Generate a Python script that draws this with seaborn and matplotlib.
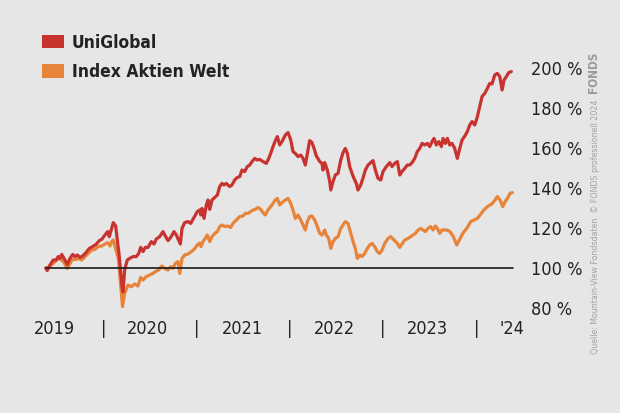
import pandas as pd
import numpy as np
import matplotlib.pyplot as plt
import seaborn as sns
from matplotlib.patches import Patch

# decimal years (weekly-ish samples)
uni_t = [2019.382, 2019.399, 2019.428, 2019.464, 2019.493, 2019.517, 2019.536, 2019.554, 2019.579, 2019.614,
         2019.643, 2019.672, 2019.697, 2019.721, 2019.750, 2019.779, 2019.814, 2019.850, 2019.886, 2019.922,
         2019.957, 2019.983,
         2020.018, 2020.047, 2020.064, 2020.090, 2020.107, 2020.133, 2020.150, 2020.168, 2020.201, 2020.211,
         2020.229, 2020.257, 2020.283, 2020.318, 2020.354, 2020.380, 2020.401, 2020.426, 2020.450, 2020.479,
         2020.515, 2020.544, 2020.568, 2020.605, 2020.640, 2020.665, 2020.694, 2020.723, 2020.758, 2020.783,
         2020.809, 2020.826, 2020.844, 2020.873, 2020.908, 2020.937, 2020.973,
         2021.008, 2021.034, 2021.045, 2021.058, 2021.080, 2021.105, 2021.123, 2021.141, 2021.166, 2021.195,
         2021.223, 2021.248, 2021.273, 2021.294, 2021.319, 2021.355, 2021.380, 2021.409, 2021.437, 2021.463,
         2021.487, 2021.516, 2021.544, 2021.570, 2021.595, 2021.624, 2021.651, 2021.677, 2021.713, 2021.748,
         2021.774, 2021.795, 2021.820, 2021.845, 2021.866, 2021.892, 2021.916, 2021.952, 2021.981,
         2022.010, 2022.034, 2022.059, 2022.088, 2022.117, 2022.142, 2022.166, 2022.188, 2022.213, 2022.238,
         2022.260, 2022.284, 2022.321, 2022.345, 2022.356, 2022.374, 2022.402, 2022.428, 2022.439, 2022.463,
         2022.488, 2022.517, 2022.546, 2022.571, 2022.595, 2022.617, 2022.642, 2022.667, 2022.688, 2022.713,
         2022.731, 2022.760, 2022.785, 2022.810, 2022.839, 2022.868, 2022.892, 2022.917, 2022.946, 2022.975,
         2022.999,
         2023.035, 2023.071, 2023.096, 2023.125, 2023.153, 2023.179, 2023.203, 2023.232, 2023.260, 2023.286,
         2023.311, 2023.339, 2023.367, 2023.393, 2023.418, 2023.447, 2023.475, 2023.500, 2023.525, 2023.546,
         2023.571, 2023.597, 2023.625, 2023.643, 2023.668, 2023.689, 2023.715, 2023.739, 2023.768, 2023.796,
         2023.822, 2023.847, 2023.876, 2023.903, 2023.929, 2023.954, 2023.983,
         2024.011, 2024.036, 2024.061, 2024.090, 2024.118, 2024.144, 2024.168, 2024.197, 2024.225, 2024.251,
         2024.276, 2024.297, 2024.322, 2024.347, 2024.375]
uni_v = [100, 98.7, 101.5, 104, 104, 105.7, 104.8, 106.8, 104.8, 101.8,
         104.8, 106.8, 105.7, 106.5, 105.3, 106, 107.7, 109.8, 110.7, 111.8,
         113.7, 114.3,
         116.5, 118.2, 115.7, 119.8, 122.7, 121, 114, 107.3, 90.7, 88,
         99, 104, 104.8, 105.7, 105.7, 107.3, 110.3, 108.2, 110.3, 110.3,
         113.2, 112, 114.5, 115.7, 118.2, 116, 113.7, 115.3, 118.2, 116.5,
         113.7, 112, 119.8, 122.7, 123.2, 122.3, 125.3,
         128.2, 129, 126.5, 129.8, 124.8, 131.5, 134, 129.3, 134, 135.3,
         136.5, 140.7, 142.3, 141.5, 142.3, 140.7, 141.5, 144, 145.3, 145.7,
         149, 148.2, 150.7, 151.5, 153.2, 154.8, 154, 154.3, 153.2, 152.3,
         154.8, 157.3, 160.7, 163.7, 165.7, 161.5, 163.2, 166.5, 167.7,
         164, 158.2, 157.3, 155.7, 156.5, 154.8, 151.5, 157.3, 163.7, 162.7,
         159.8, 156, 153.2, 152.3, 149, 152.7, 149, 143.2, 139, 143.2,
         146.5, 147.3, 154, 157.7, 159.8, 157.3, 150.7, 147.3, 144.8, 142.3,
         139, 141.5, 145, 149, 151.5, 152.7, 153.7, 149, 144.8, 144,
         148.2,
         150.7, 152.7, 150.7, 152.3, 153.2, 146.5, 148.2, 149.8, 151.5, 151.5,
         152.7, 154.8, 158.2, 159.8, 162.3, 161.5, 162.3, 160.7, 163.2, 164.8,
         161.5, 163.2, 160.7, 164.8, 162.3, 164.8, 161.5, 162.3, 159.8, 154.8,
         159.8, 164, 166, 168.2, 171.5, 173.2, 171.5,
         175.7, 180.7, 185.7, 187.3, 189.8, 192.3, 192, 196.5, 197.3, 195.7,
         189, 194, 195.7, 197.7, 198.2]

idx_t = [2019.392, 2019.428, 2019.464, 2019.500, 2019.528, 2019.554, 2019.579, 2019.614, 2019.643, 2019.672,
         2019.707, 2019.732, 2019.768, 2019.804, 2019.839, 2019.876, 2019.911, 2019.946, 2019.983,
         2020.018, 2020.047, 2020.072, 2020.090, 2020.107, 2020.136, 2020.161, 2020.179, 2020.197, 2020.206,
         2020.229, 2020.265, 2020.300, 2020.337, 2020.372, 2020.401, 2020.426, 2020.461, 2020.498, 2020.533,
         2020.558, 2020.594, 2020.629, 2020.658, 2020.694, 2020.723, 2020.747, 2020.772, 2020.801, 2020.819,
         2020.844, 2020.873, 2020.908, 2020.944, 2020.973,
         2021.008, 2021.034, 2021.048, 2021.069, 2021.094, 2021.115, 2021.141, 2021.166, 2021.195, 2021.223,
         2021.248, 2021.273, 2021.302, 2021.330, 2021.366, 2021.391, 2021.426, 2021.463, 2021.498, 2021.523,
         2021.552, 2021.581, 2021.605, 2021.630, 2021.659, 2021.688, 2021.713, 2021.737, 2021.766, 2021.795,
         2021.820, 2021.845, 2021.866, 2021.892, 2021.916, 2021.952, 2021.981,
         2022.010, 2022.034, 2022.059, 2022.088, 2022.117, 2022.142, 2022.166, 2022.188, 2022.213, 2022.238,
         2022.267, 2022.295, 2022.321, 2022.345, 2022.374, 2022.391, 2022.417, 2022.439, 2022.463, 2022.488,
         2022.517, 2022.546, 2022.571, 2022.595, 2022.624, 2022.653, 2022.678, 2022.702, 2022.724, 2022.750,
         2022.774, 2022.803, 2022.831, 2022.857, 2022.882, 2022.910, 2022.938, 2022.964, 2022.989,
         2023.018, 2023.053, 2023.082, 2023.117, 2023.153, 2023.179, 2023.203, 2023.232, 2023.268, 2023.297,
         2023.321, 2023.346, 2023.375, 2023.404, 2023.428, 2023.453, 2023.482, 2023.511, 2023.536, 2023.560,
         2023.582, 2023.607, 2023.632, 2023.683, 2023.718, 2023.753, 2023.790, 2023.818, 2023.854, 2023.897,
         2023.940, 2023.975,
         2024.011, 2024.040, 2024.075, 2024.118, 2024.165, 2024.201, 2024.225, 2024.254, 2024.283, 2024.308,
         2024.333, 2024.361, 2024.386]
idx_v = [100, 101, 102.3, 104, 104.8, 104, 102.7, 99.8, 102.3, 104.3,
         104.3, 104.8, 104, 105.7, 107.3, 109, 109.3, 110.7, 111,
         112, 112.7, 111, 113.2, 114, 109, 104.8, 95.7, 85.7, 80.7,
         87.3, 91.5, 90.7, 92, 91, 95.3, 94, 95.7, 96.5, 97.3,
         98.2, 99, 101, 99.8, 99, 100.7, 99.8, 102.3, 103.2, 97.3,
         104.8, 106.5, 107, 108.2, 109.3,
         111.5, 112.5, 110.7, 113.2, 114.8, 116.5, 113.2, 115.7, 117.3, 118.2,
         120.7, 121.5, 120.7, 121, 120.3, 122.3, 124, 125.7, 126, 127.3,
         127.3, 128.2, 129, 129.3, 130.3, 129.3, 127.7, 126.5, 129, 130.7,
         132.3, 134, 134.8, 131.5, 132.7, 134, 134.8,
         132.3, 129, 124.8, 126.5, 124, 121.5, 119, 123.2, 125.7, 126,
         124, 120.7, 117.3, 116.5, 119, 116.5, 114.8, 109.8, 113.2, 114.8,
         115.7, 119.8, 121.5, 123.2, 122.3, 117.3, 113.2, 109.8, 104.8, 106.5,
         105.7, 107.3, 109.8, 111.5, 112.3, 110.7, 108.2, 107.3, 109,
         112.3, 114.8, 115.7, 114, 112.3, 110.3, 112, 114, 114.8, 115.7,
         116.5, 117.3, 119, 119.8, 119, 118.2, 119.8, 120.7, 119, 121,
         119.8, 117.3, 119, 119, 118.2, 115.7, 111.5, 114, 117.3, 119.8,
         123.2, 124,
         124.8, 126.5, 128.7, 130.7, 132, 134, 135.7, 134, 130.7, 133.2,
         134.8, 137.3, 137.7]

series = ["UniGlobal", "Index Aktien Welt"]
colors = {"UniGlobal": "#c8322f", "Index Aktien Welt": "#e8833a"}

year_pos = [2019.48, 2020.47, 2021.49, 2022.48, 2023.48, 2024.38]
year_labels = ["2019", "2020", "2021", "2022", "2023", "'24"]
year_breaks = [2020, 2021, 2022, 2023, 2024]
y_ticks = [80, 100, 120, 140, 160, 180, 200]

bg = "#e6e6e6"
sns.set_style("white", {"axes.facecolor": bg, "figure.facecolor": bg})
plt.rcParams["font.family"] = ["DejaVu Sans"]
plt.rcParams["font.stretch"] = "condensed"

df = pd.concat([
    pd.DataFrame({"Jahr": idx_t, "Wert": idx_v, "Reihe": "Index Aktien Welt"}),
    pd.DataFrame({"Jahr": uni_t, "Wert": uni_v, "Reihe": "UniGlobal"}),
], ignore_index=True)

fig = plt.figure(figsize=(6.2, 4.13), dpi=100)
ax = fig.add_axes([0.0613, 0.230, 0.7747, 0.6296])
sns.lineplot(data=df, x="Jahr", y="Wert", hue="Reihe", hue_order=series[::-1],
             palette=colors, estimator=None, lw=2.3, legend=False, ax=ax)
ax.axhline(100, xmin=0.0167, xmax=0.989, color="#1a1a1a", lw=1.2, zorder=3)

ax.set_xlim(2019.3, 2024.45)
ax.set_ylim(75, 205)
ax.set_xlabel("")
ax.set_ylabel("")
for s in ax.spines.values():
    s.set_visible(False)

ax.set_xticks(year_pos)
ax.set_xticklabels(year_labels)
ax.set_xticks(year_breaks, minor=True)
ax.set_xticklabels(["|"] * len(year_breaks), minor=True)
ax.tick_params(axis="x", which="both", length=0, pad=1.5, labelsize=13, labelcolor="#222222")

ax.yaxis.tick_right()
ax.set_yticks(y_ticks)
ax.set_yticklabels([f"{v} %" for v in y_ticks])
ax.tick_params(axis="y", length=0, pad=9, labelsize=13, labelcolor="#222222")

handles = [Patch(facecolor=colors[s], edgecolor="none", label=s) for s in series]
leg = fig.legend(handles=handles, loc="upper left", bbox_to_anchor=(0.068, 0.918),
                 frameon=False, handlelength=1.25, handleheight=0.8, handletextpad=0.45,
                 labelspacing=0.65, borderpad=0, borderaxespad=0,
                 prop={"size": 12.5, "weight": "bold", "stretch": "condensed"})
for t in leg.get_texts():
    t.set_color("#222222")

fig.text(0.96, 0.45, "Quelle: Mountain-View Fondsdaten  \u00a9 FONDS professionell 2024",
         rotation=90, ha="center", va="center", fontsize=6.3, color="#a3a3a3")
fig.text(0.958, 0.826, "FONDS", rotation=90, ha="center", va="center",
         fontsize=8.5, fontweight="bold", color="#9a9a9a")

fig.savefig("out.png", dpi=100, facecolor=bg)
